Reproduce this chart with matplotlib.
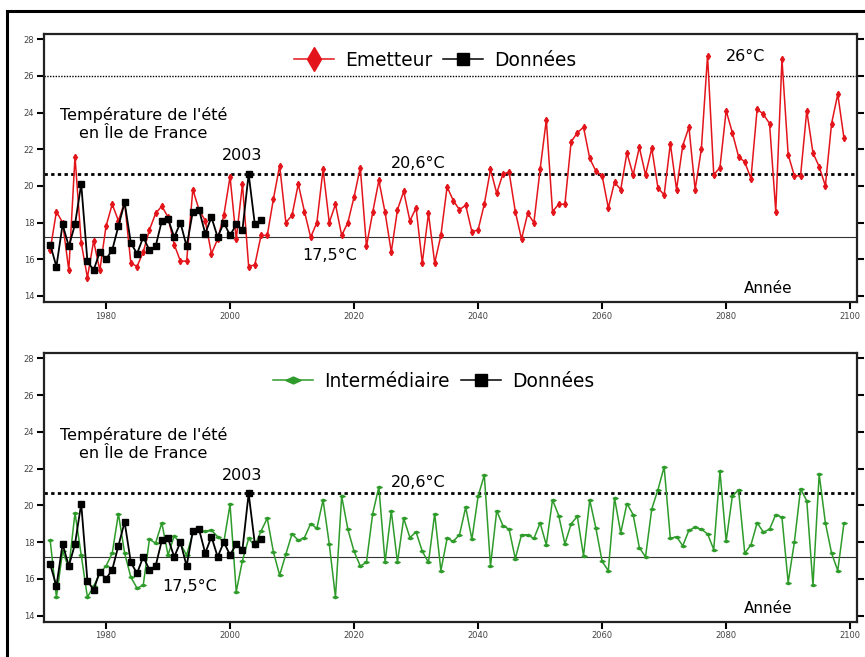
import matplotlib
matplotlib.use("Agg")
import matplotlib.pyplot as plt
import numpy as np
from matplotlib.lines import Line2D
from matplotlib.patches import Rectangle

# observed summer temperatures (black squares)
years_obs = np.arange(1971, 2006)
obs = [16.8, 15.6, 17.9, 16.7, 17.9, 20.1, 15.9, 15.4, 16.4, 16.0,
       16.5, 17.8, 19.1, 16.9, 16.3, 17.2, 16.5, 16.7, 18.1, 18.2,
       17.2, 18.0, 16.7, 18.6, 18.7, 17.4, 18.3, 17.2, 18.0, 17.3,
       17.9, 17.6, 20.65, 17.9, 18.15]

# model runs
years_sim = np.arange(1971, 2100)
emetteur = [16.5, 18.6, 18.0, 15.4, 21.6, 16.9, 15.0, 17.0, 15.4, 17.8,
            19.0, 18.1, 19.1, 15.8, 15.6, 16.4, 17.6, 18.5, 18.9, 18.3,
            16.8, 15.9, 15.9, 19.8, 18.7, 18.1, 16.3, 17.1, 18.4, 20.5,
            17.1, 20.1, 15.6, 15.7, 17.3, 17.3, 19.3, 21.1, 18.0, 18.4,
            20.1, 18.6, 17.2, 18.0, 20.9, 18.0, 19.0, 17.3, 18.0, 19.4,
            21.0, 16.7, 18.55, 20.3, 18.55, 16.4, 18.7, 19.7, 18.1, 18.8,
            15.8, 18.5, 15.8, 17.3, 19.95, 19.2, 18.7, 18.95, 17.5, 17.6,
            19.0, 20.9, 19.6, 20.65, 20.75, 18.6, 17.1, 18.5, 18.0, 20.9,
            23.6, 18.6, 19.0, 19.0, 22.4, 22.9, 23.2, 21.5, 20.8, 20.55,
            18.8, 20.2, 19.8, 21.8, 20.6, 22.1, 20.6, 22.05, 19.9, 19.5,
            22.3, 19.8, 22.2, 23.2, 19.8, 22.0, 27.1, 20.6, 21.0, 24.1,
            22.9, 21.6, 21.3, 20.4, 24.2, 23.9, 23.4, 18.6, 26.9, 21.7,
            20.55, 20.55, 24.1, 21.8, 21.05, 20.0, 23.4, 25.0, 22.6]
intermediaire = [18.1, 15.0, 17.5, 16.6, 19.6, 17.3, 15.0, 15.6, 16.3, 16.7,
                 17.4, 19.55, 17.4, 16.1, 15.5, 15.65, 18.15, 17.95, 19.05, 17.3,
                 18.35, 17.9, 17.3, 18.5, 18.6, 18.6, 18.65, 18.3, 18.0, 20.05,
                 15.3, 17.0, 18.2, 17.8, 18.6, 19.3, 17.45, 16.2, 17.35, 18.45,
                 18.1, 18.25, 19.0, 18.75, 20.3, 17.9, 15.0, 20.5, 18.7, 17.5,
                 16.7, 16.9, 19.55, 21.0, 16.9, 19.7, 16.9, 19.3, 18.25, 18.55,
                 17.5, 16.9, 19.55, 16.45, 18.2, 18.05, 18.4, 19.9, 18.15, 20.5,
                 21.65, 16.7, 19.7, 18.9, 18.7, 17.1, 18.4, 18.4, 18.2, 19.05,
                 17.85, 20.3, 19.45, 17.9, 19.0, 19.4, 17.25, 20.3, 18.75, 16.95,
                 16.45, 20.4, 18.5, 20.1, 19.5, 17.7, 17.2, 19.8, 20.85, 22.1,
                 18.2, 18.3, 17.8, 18.65, 18.8, 18.7, 18.45, 17.6, 21.85, 18.05,
                 20.5, 20.85, 17.4, 17.85, 19.05, 18.55, 18.7, 19.5, 19.35, 15.8,
                 18.0, 20.9, 20.25, 15.65, 21.7, 19.05, 17.4, 16.45, 19.05]

ref_mean = 17.2
ref_2003 = 20.65
ref_26 = 26.0

RED = "#e3151b"
GREEN = "#2e9b2a"

# horizontal diamond for the green series
hdiamond = [(-1, 0), (0, 0.45), (1, 0), (0, -0.45), (-1, 0)]

fig = plt.figure(figsize=(8.65, 6.57), dpi=100)
fig.patches.append(Rectangle((7 / 865, -0.05), 1.0, 1 - 10.5 / 657 + 0.05,
                             transform=fig.transFigure, fill=False,
                             edgecolor="black", linewidth=2.2))

ax1 = fig.add_axes([44 / 865, 1 - 302 / 657, 813 / 865, 268 / 657])
ax2 = fig.add_axes([44 / 865, 1 - 621.7 / 657, 813 / 865, 268.4 / 657])

panels = [(ax1, emetteur, "Emetteur", RED, "d"),
          (ax2, intermediaire, "Intermédiaire", GREEN, hdiamond)]

for ax, sim, name, col, mk in panels:
    ax.set_xlim(1970, 2101.1)
    ax.set_ylim(13.67, 28.28)

    ax.axhline(ref_mean, color="#333333", lw=0.8, zorder=1)
    ax.axhline(ref_2003, color="black", lw=2.0, ls=(0, (1.2, 1.2)), zorder=1)

    ax.plot(years_sim, sim, color=col, lw=1.1, marker=mk,
            ms=3.2 if mk == "d" else 3.8, mec=col, mfc=col, zorder=3)
    ax.plot(years_obs, obs, color="black", lw=1.3, marker="s", ms=4.6,
            zorder=4)

    ax.set_xticks(np.arange(1980, 2101, 20))
    ax.set_yticks(np.arange(14, 29, 2))
    ax.tick_params(direction="out", length=5, width=1.5, labelsize=6,
                   labelcolor="#444444", right=True, pad=2)
    for s in ax.spines.values():
        s.set_linewidth(1.6)
        s.set_color("#222222")

    ax.text(1986, 23.85, "Température de l'été", ha="center", va="center",
            fontsize=11.5)
    ax.text(1986, 22.85, "en Île de France", ha="center", va="center",
            fontsize=11.5)
    ax.text(2001.9, 21.65, "2003", ha="center", va="center", fontsize=11.5)
    ax.text(2030.3, 21.23, "20,6°C", ha="center", va="center", fontsize=11.5)
    ax.text(2086.8, 14.4, "Année", ha="center", va="center", fontsize=11)

    handles = [Line2D([], [], color=col, lw=1.1, marker=mk,
                      ms=12 if mk == "d" else 11, mfc=col, mec=col),
               Line2D([], [], color="black", lw=1.1, marker="s", ms=8)]
    ax.legend(handles, [name, "Données"], loc="center", ncol=2,
              frameon=False, fontsize=13.4, handlelength=2.15,
              handletextpad=0.6, columnspacing=0.6)

# legend positions (centre of legend row in axes coords)
ax1.get_legend().set_bbox_to_anchor((391 / 813, 1 - 26 / 268),
                                    transform=ax1.transAxes)
ax2.get_legend().set_bbox_to_anchor((390 / 813, 1 - 28 / 268.4),
                                    transform=ax2.transAxes)

ax1.axhline(ref_26, color="black", lw=1.0, ls=(0, (1, 1)), zorder=1)
ax1.text(2083.1, 27.05, "26°C", ha="center", va="center", fontsize=11.5)
ax1.text(2016.0, 16.22, "17,5°C", ha="center", va="center", fontsize=11.5)
ax2.text(1993.5, 15.57, "17,5°C", ha="center", va="center", fontsize=11.5)

fig.savefig("out.png", dpi=100)
